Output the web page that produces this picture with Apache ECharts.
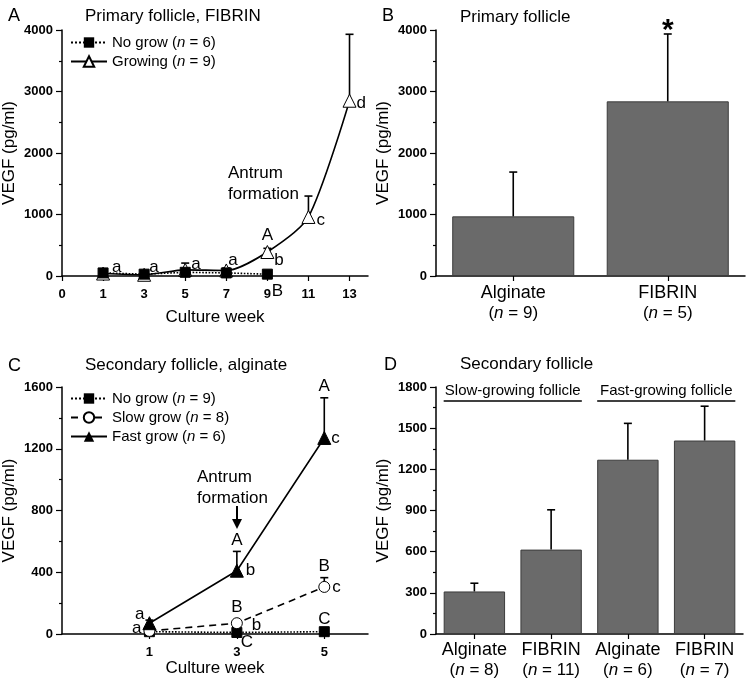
<!DOCTYPE html>
<html>
<head>
<meta charset="utf-8">
<script src="https://cdn.jsdelivr.net/npm/echarts@6/dist/echarts.min.js"></script>
<style>html,body{margin:0;padding:0;background:#fff}#c{width:746px;height:680px}</style>
</head>
<body>
<div id="c"></div>
<script>
// ---------------- DATA ----------------
// Panel A: Primary follicle, FIBRIN
const tickLabelsA = ['0', '1', '3', '5', '7', '9', '11', '13'];
const weeksA = [1, 3, 5, 7, 9, 11, 13];
const noGrowWeeksA = [1, 3, 5, 7, 9];
const noGrowA = [50, 30, 60, 50, 30];
const growingA = [40, 20, 100, 90, 390, 960, 2850];
const growingErrA = [30, 20, 110, 40, 60, 340, 1080];
const lettersGrowingA = ['a', 'a', 'a', 'a', 'b', 'c', 'd'];
const upperGrowingA = ['', '', '', '', 'A', '', ''];
const lettersNoGrowA = ['', '', '', '', 'B'];
const yTicksA = [0, 1000, 2000, 3000, 4000];

// Panel B: Primary follicle
const groupsB = ['Alginate', 'FIBRIN'];
const nB = [9, 5];
const valuesB = [970, 2840];
const errB = [720, 1095];
const sigB = ['', '*'];
const yTicksB = [0, 1000, 2000, 3000, 4000];

// Panel C: Secondary follicle, alginate
const tickLabelsC = ['0', '1', '3', '5'];
const weeksC = [1, 3, 5];
const noGrowC = [15, 10, 15];
const slowC = [20, 70, 305];
const slowErrC = [10, 15, 60];
const fastC = [70, 410, 1270];
const fastErrC = [20, 125, 260];
const lettersFastC = ['a', 'b', 'c'];
const upperFastC = ['', 'A', 'A'];
const lettersSlowC = ['a', 'b', 'c'];
const upperSlowC = ['', 'B', 'B'];
const lettersNoGrowC = ['', 'C', 'C'];
const yTicksC = [0, 400, 800, 1200, 1600];

// Panel D: Secondary follicle
const groupsD = ['Alginate', 'FIBRIN', 'Alginate', 'FIBRIN'];
const nD = [8, 11, 6, 7];
const valuesD = [310, 615, 1270, 1410];
const errD = [60, 290, 265, 250];
const bracketNamesD = ['Slow-growing follicle', 'Fast-growing follicle'];
const bracketSpansD = [[0, 1], [2, 3]];
const yTicksD = [0, 300, 600, 900, 1200, 1500, 1800];

// ---------------- STYLE / RENDER ----------------
const FONT = '"Liberation Sans", Arial, sans-serif';
const idxA = w => tickLabelsA.indexOf(String(w));
const idxC = w => tickLabelsC.indexOf(String(w));

function valueYAxis(grid, ticks) {
  return {
    type: 'value', gridIndex: grid, min: ticks[0], max: ticks[ticks.length - 1],
    interval: ticks[1] - ticks[0],
    name: 'VEGF (pg/ml)', nameLocation: 'middle', nameGap: 44,
    nameTextStyle: { fontSize: 17, fontFamily: FONT, color: '#000' },
    axisLine: { show: true, lineStyle: { color: '#000', width: 1.5 } },
    axisTick: { show: true, length: 6, lineStyle: { color: '#000', width: 1.2 } },
    minorTick: { show: true, splitNumber: 2, length: 3, lineStyle: { color: '#000', width: 1.2 } },
    splitLine: { show: false },
    axisLabel: { formatter: v => String(v), fontSize: 13, fontWeight: 'bold', fontFamily: FONT, color: '#000', margin: 9 }
  };
}
function weekXAxis(grid, labels, custom, max, nameGap) {
  return {
    type: 'value', gridIndex: grid, min: 0, max: max,
    name: 'Culture week', nameLocation: 'middle', nameGap: nameGap,
    nameTextStyle: { fontSize: 17, fontFamily: FONT, color: '#000' },
    axisLine: { show: true, onZero: false, lineStyle: { color: '#000', width: 1.5 } },
    axisTick: { show: true, length: 5, customValues: custom, lineStyle: { color: '#000', width: 1.2 } },
    axisLabel: { customValues: custom, formatter: v => labels[Math.round(v)], fontSize: 13,
      fontWeight: 'bold', fontFamily: FONT, color: '#000', margin: 12 },
    splitLine: { show: false }
  };
}
function catXAxis(grid, groups, ns, margin) {
  return {
    type: 'category', gridIndex: grid, data: groups.map((g, i) => g + '|' + ns[i]),
    axisLine: { show: true, lineStyle: { color: '#000', width: 1.5 } },
    axisTick: { show: true, alignWithLabel: true, length: 5, lineStyle: { color: '#000', width: 1.2 } },
    axisLabel: {
      margin: margin, interval: 0, color: '#000',
      formatter: v => { const [g, n] = v.split('|'); return '{c|' + g + '}\n{p|(}{i|n}{p| = ' + n + ')}'; },
      rich: {
        c: { fontSize: 18, lineHeight: 20, fontFamily: FONT, color: '#000' },
        p: { fontSize: 17, lineHeight: 20, fontFamily: FONT, color: '#000' },
        i: { fontSize: 17, lineHeight: 20, fontFamily: FONT, fontStyle: 'italic', color: '#000' }
      }
    }
  };
}
function errSeries(xi, yi, rows, cap, z) {
  return {
    type: 'custom', xAxisIndex: xi, yAxisIndex: yi, z: z, silent: true, data: rows,
    renderItem: (params, api) => {
      const p0 = api.coord([api.value(0), api.value(1)]);
      const p1 = api.coord([api.value(0), api.value(1) + api.value(2)]);
      return { type: 'group', children: [
        { type: 'line', shape: { x1: p0[0], y1: p0[1], x2: p1[0], y2: p1[1] }, style: { stroke: '#000', lineWidth: 1.6 } },
        { type: 'line', shape: { x1: p1[0] - cap, y1: p1[1], x2: p1[0] + cap, y2: p1[1] }, style: { stroke: '#000', lineWidth: 1.6 } }
      ] };
    }
  };
}
// annotations: list of {x, y, text, dx, dy, align, size, weight}
function annotSeries(xi, yi, list) {
  return {
    type: 'custom', xAxisIndex: xi, yAxisIndex: yi, z: 10, silent: true,
    data: list.map(a => [a.x, a.y]),
    renderItem: (params, api) => {
      const a = list[params.dataIndex];
      const p = api.coord([api.value(0), api.value(1)]);
      return { type: 'text', x: p[0] + a.dx, y: p[1] + a.dy,
        style: { text: a.text, fontSize: a.size || 17, fontWeight: a.weight || 'normal', fontFamily: FONT,
          fill: '#000', align: a.align || 'left', verticalAlign: 'middle' } };
    }
  };
}
function collect(xs, ys, texts, offs, align, tops) {
  const out = [];
  texts.forEach((t, i) => {
    if (!t) return;
    out.push({ x: xs[i], y: ys[i] + (tops ? tops[i] : 0), text: t, dx: offs[i][0], dy: offs[i][1], align: align });
  });
  return out;
}

// Panel A annotation offsets (pixels)
const offLowA = [[9, -6], [5, -7], [6, -6], [2, -10], [7, 8], [8, 3], [7, 3]];
const offUpA = weeksA.map(() => [0, -13]);
const offNoA = noGrowWeeksA.map(() => [10, 17]);
const annA = []
  .concat(collect(weeksA.map(idxA), growingA, lettersGrowingA, offLowA, 'left'))
  .concat(collect(weeksA.map(idxA), growingA, upperGrowingA, offUpA, 'center', growingErrA))
  .concat(collect(noGrowWeeksA.map(idxA), noGrowA, lettersNoGrowA, offNoA, 'center'));

// Panel C annotation offsets
const offFastC = [[-5, -9], [9, 0], [7, 0]];
const offFastUpC = [[0, -11], [0, -11], [0, -11]];
const offSlowC = [[-8, -3], [15, 2], [8, 0]];
const offSlowUpC = [[0, -14], [0, -14], [0, -11]];
const offNoC = [[0, 0], [10, 10], [0, -12]];
const xsC = weeksC.map(idxC);
const annC = []
  .concat(collect(xsC, fastC, lettersFastC, offFastC, 'left').map((a, k) => (k === 0 ? Object.assign(a, { align: 'right' }) : a)))
  .concat(collect(xsC, fastC, upperFastC, offFastUpC, 'center', fastErrC))
  .concat(collect(xsC, slowC, lettersSlowC, offSlowC, 'left').map((a, k) => (k === 0 ? Object.assign(a, { align: 'right' }) : a)))
  .concat(collect(xsC, slowC, upperSlowC, offSlowUpC, 'center', slowErrC))
  .concat(collect(xsC, noGrowC, lettersNoGrowC, offNoC, 'center'));

const legendText = {
  fontSize: 15, fontFamily: FONT, color: '#000',
  rich: { i: { fontSize: 15, fontFamily: FONT, fontStyle: 'italic', color: '#000' } }
};
const legendFmt = name => name.replace('(n', '({i|n}');

const barStyle = { color: '#6a6a6a', borderColor: '#3c3c3c', borderWidth: 1 };

const option = {
  animation: false,
  backgroundColor: '#fff',
  textStyle: { fontFamily: FONT },
  title: [
    { text: 'A', left: 3, top: 2, textStyle: { fontSize: 18, fontWeight: 'normal', fontFamily: FONT, color: '#000' } },
    { text: 'Primary follicle, FIBRIN', left: 80, top: 3, textStyle: { fontSize: 17, fontWeight: 'normal', fontFamily: FONT, color: '#000' } },
    { text: 'B', left: 377, top: 2, textStyle: { fontSize: 18, fontWeight: 'normal', fontFamily: FONT, color: '#000' } },
    { text: 'Primary follicle', left: 455, top: 4, textStyle: { fontSize: 17, fontWeight: 'normal', fontFamily: FONT, color: '#000' } },
    { text: 'C', left: 3, top: 352, textStyle: { fontSize: 18, fontWeight: 'normal', fontFamily: FONT, color: '#000' } },
    { text: 'Secondary follicle, alginate', left: 80, top: 352, textStyle: { fontSize: 17, fontWeight: 'normal', fontFamily: FONT, color: '#000' } },
    { text: 'D', left: 379, top: 351, textStyle: { fontSize: 18, fontWeight: 'normal', fontFamily: FONT, color: '#000' } },
    { text: 'Secondary follicle', left: 455, top: 351, textStyle: { fontSize: 17, fontWeight: 'normal', fontFamily: FONT, color: '#000' } }
  ],
  legend: [
    { orient: 'vertical', left: 65, top: 30, itemWidth: 36, itemHeight: 13, itemGap: 4, selectedMode: false,
      data: ['No grow (n = 6)', 'Growing (n = 9)'], textStyle: legendText, formatter: legendFmt },
    { orient: 'vertical', left: 65, top: 386, itemWidth: 36, itemHeight: 13, itemGap: 4, selectedMode: false,
      data: ['No grow (n = 9)', 'Slow grow (n = 8)', 'Fast grow (n = 6)'], textStyle: legendText, formatter: legendFmt }
  ],
  grid: [
    { left: 62, top: 30, width: 306, height: 246 },
    { left: 436, top: 30, width: 309, height: 246 },
    { left: 62, top: 387, width: 306, height: 247 },
    { left: 436, top: 387, width: 307, height: 247 }
  ],
  xAxis: [
    weekXAxis(0, tickLabelsA, [0, 1, 2, 3, 4, 5, 6, 7], 7.45, 33),
    catXAxis(1, groupsB, nB, 7),
    weekXAxis(2, tickLabelsC, [1, 2, 3], 3.5, 25),
    catXAxis(3, groupsD, nD, 6)
  ],
  yAxis: [valueYAxis(0, yTicksA), valueYAxis(1, yTicksB), valueYAxis(2, yTicksC), valueYAxis(3, yTicksD)],
  series: [
    // ---- A ----
    errSeries(0, 0, weeksA.map((w, i) => [idxA(w), growingA[i], growingErrA[i]]), 4, 1),
    { name: 'Growing (n = 9)', type: 'line', xAxisIndex: 0, yAxisIndex: 0, z: 2, smooth: 0.25,
      data: weeksA.map((w, i) => [idxA(w), growingA[i]]),
      symbol: 'triangle', symbolSize: 13,
      itemStyle: { color: '#fff', borderColor: '#000', borderWidth: 1 },
      lineStyle: { color: '#000', width: 1.6, type: 'solid' } },
    { name: 'No grow (n = 6)', type: 'line', xAxisIndex: 0, yAxisIndex: 0, z: 3,
      data: noGrowWeeksA.map((w, i) => [idxA(w), noGrowA[i]]),
      symbol: 'rect', symbolSize: 10,
      itemStyle: { color: '#000', borderColor: '#000' },
      lineStyle: { color: '#000', width: 1.6, type: 'dotted' } },
    annotSeries(0, 0, annA),
    // ---- B ----
    { type: 'bar', xAxisIndex: 1, yAxisIndex: 1, data: valuesB, barWidth: '79%', itemStyle: barStyle, z: 2 },
    errSeries(1, 1, groupsB.map((g, i) => [i, valuesB[i], errB[i]]), 4, 3),
    annotSeries(1, 1, sigB.map((s, i) => ({ x: i, y: valuesB[i] + errB[i], text: s, dx: 0, dy: -3, align: 'center', size: 30, weight: 'bold' })).filter(a => a.text)),
    // ---- C ----
    errSeries(2, 2, weeksC.map((w, i) => [idxC(w), fastC[i], fastErrC[i]]), 4, 1),
    errSeries(2, 2, weeksC.map((w, i) => [idxC(w), slowC[i], slowErrC[i]]), 4, 1),
    { name: 'No grow (n = 9)', type: 'line', xAxisIndex: 2, yAxisIndex: 2, z: 2,
      data: weeksC.map((w, i) => [idxC(w), noGrowC[i]]),
      symbol: 'rect', symbolSize: 10,
      itemStyle: { color: '#000', borderColor: '#000' },
      lineStyle: { color: '#000', width: 1.6, type: 'dotted' } },
    { name: 'Slow grow (n = 8)', type: 'line', xAxisIndex: 2, yAxisIndex: 2, z: 3,
      data: weeksC.map((w, i) => [idxC(w), slowC[i]]),
      symbol: 'circle', symbolSize: 11,
      itemStyle: { color: '#fff', borderColor: '#000', borderWidth: 1 },
      lineStyle: { color: '#000', width: 1.6, type: [7, 5] } },
    { name: 'Fast grow (n = 6)', type: 'line', xAxisIndex: 2, yAxisIndex: 2, z: 4,
      data: weeksC.map((w, i) => [idxC(w), fastC[i]]),
      symbol: 'triangle', symbolSize: 13,
      itemStyle: { color: '#000', borderColor: '#000' },
      lineStyle: { color: '#000', width: 1.6, type: 'solid' } },
    annotSeries(2, 2, annC),
    // ---- D ----
    { type: 'bar', xAxisIndex: 3, yAxisIndex: 3, data: valuesD, barWidth: '80%', itemStyle: barStyle, z: 2 },
    errSeries(3, 3, groupsD.map((g, i) => [i, valuesD[i], errD[i]]), 4, 3),
    { type: 'custom', xAxisIndex: 3, yAxisIndex: 3, z: 5, silent: true,
      data: bracketSpansD.map(s => [s[0], s[1]]),
      renderItem: (params, api) => {
        const bw = api.size([1, 0])[0];
        const top = api.coord([0, yTicksD[yTicksD.length - 1]])[1];
        const x1 = api.coord([api.value(0), 0])[0] - bw * 0.4;
        const x2 = api.coord([api.value(1), 0])[0] + bw * 0.4;
        return { type: 'group', children: [
          { type: 'line', shape: { x1: x1, y1: top + 14, x2: x2, y2: top + 14 }, style: { stroke: '#000', lineWidth: 1.3 } },
          { type: 'text', x: (x1 + x2) / 2, y: top + 4, style: { text: bracketNamesD[params.dataIndex], fontSize: 15,
            fontFamily: FONT, fill: '#000', align: 'center', verticalAlign: 'middle' } }
        ] };
      } }
  ],
  graphic: [
    { type: 'text', left: 228, top: 163, style: { text: 'Antrum\nformation', fontSize: 17, lineHeight: 21, fontFamily: FONT, fill: '#000' } },
    { type: 'text', left: 197, top: 467, style: { text: 'Antrum\nformation', fontSize: 17, lineHeight: 21, fontFamily: FONT, fill: '#000' } },
    { type: 'line', shape: { x1: 237, y1: 506, x2: 237, y2: 520 }, style: { stroke: '#000', lineWidth: 2 } },
    { type: 'polygon', shape: { points: [[232, 519], [242, 519], [237, 529]] }, style: { fill: '#000' } }
  ]
};

const chart = echarts.init(document.getElementById('c'), null, { renderer: 'canvas' });
chart.setOption(option);
</script>
</body>
</html>
